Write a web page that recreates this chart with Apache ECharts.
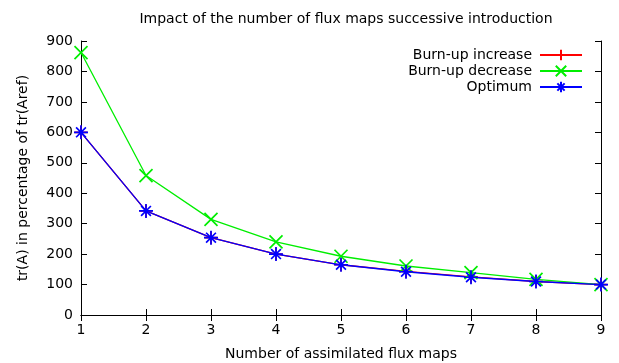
<!DOCTYPE html>
<html>
<head>
<meta charset="utf-8">
<script src="https://cdn.jsdelivr.net/npm/echarts@6/dist/echarts.min.js"></script>
<style>
  html, body { margin: 0; padding: 0; background: #fff; }
  #chart { width: 619px; height: 363px; }
</style>
</head>
<body>
<div id="chart"></div>
<script>
// values
const fluxMaps = [1, 2, 3, 4, 5, 6, 7, 8, 9]
const burnupIncrease = [600, 342, 254, 200, 165, 143, 125, 110, 100]
const burnupDecrease = [862, 458, 314, 240, 193, 161, 139, 117, 100]
const optimum = [600, 342, 254, 200, 165, 142, 124, 110, 100]

const font = 'DejaVu Sans'
const plusPath = 'path://M0,5L10,5M5,0L5,10'
const crossPath = 'path://M0,0L10,10M10,0L0,10'
const starPath = 'path://M0,5L10,5M5,0L5,10M1.5,1.5L8.5,8.5M8.5,1.5L1.5,8.5'

const pairs = (ys) => fluxMaps.map((x, i) => [x, ys[i]])

function makeSeries(name, color, path, ys, size) {
    return {
        name: name,
        type: 'line',
        data: pairs(ys),
        symbol: path,
        symbolSize: size,
        showAllSymbol: true,
        lineStyle: { color: color, width: 1.3 },
        itemStyle: { color: color, borderColor: color, borderWidth: 1.7 },
        emphasis: { disabled: true },
    }
}

function legendFor(name, top) {
    return {
        data: [name],
        orient: 'vertical',
        right: 36,
        top: top,
        align: 'right',
        itemWidth: 42,
        itemHeight: 13,
        padding: 0,
        selectedMode: false,
        textStyle: { fontFamily: font, fontSize: 14, color: '#000', padding: [0, 3, 0, 0] },
    }
}

const axisCommon = {
    axisLine: { show: true, lineStyle: { color: '#000', width: 1 } },
    axisTick: { show: true, inside: true, length: 6, lineStyle: { color: '#000' } },
    splitLine: { show: false },
}

const chart = echarts.init(document.getElementById('chart'), null, { renderer: 'canvas' })
chart.setOption({
    animation: false,
    backgroundColor: '#fff',
    title: {
        text: 'Impact of the number of flux maps successive introduction',
        left: 341,
        textAlign: 'center',
        top: 7,
        textStyle: { fontFamily: font, fontSize: 14, fontWeight: 'normal', color: '#000' },
    },
    legend: [
        legendFor('Burn-up increase', 48),
        legendFor('Burn-up decrease', 64),
        legendFor('Optimum', 80),
    ],
    grid: { left: 81, right: 18, top: 41, bottom: 48, outerBoundsMode: 'none' },
    xAxis: [
        {
            type: 'value',
            min: 1,
            max: 9,
            interval: 1,
            name: 'Number of assimilated flux maps',
            nameLocation: 'middle',
            nameGap: 32,
            nameTextStyle: { fontFamily: font, fontSize: 14, color: '#000' },
            axisLabel: { fontFamily: font, fontSize: 14, color: '#000', margin: 8 },
            ...axisCommon,
        },
        {
            type: 'value',
            position: 'top',
            min: 1,
            max: 9,
            interval: 1,
            axisLabel: { show: false },
            ...axisCommon,
        },
    ],
    yAxis: [
        {
            type: 'value',
            min: 0,
            max: 900,
            interval: 100,
            name: 'tr(A) in percentage of tr(Aref)',
            nameLocation: 'middle',
            nameGap: 51,
            nameTextStyle: { fontFamily: font, fontSize: 14, color: '#000' },
            axisLabel: { fontFamily: font, fontSize: 14, color: '#000', margin: 8 },
            ...axisCommon,
        },
        {
            type: 'value',
            position: 'right',
            min: 0,
            max: 900,
            interval: 100,
            axisLabel: { show: false },
            ...axisCommon,
        },
    ],
    series: [
        makeSeries('Burn-up increase', '#ff0000', plusPath, burnupIncrease, 13),
        makeSeries('Burn-up decrease', '#00ee00', crossPath, burnupDecrease, 13),
        makeSeries('Optimum', '#0000ff', starPath, optimum, 14),
    ],
})
</script>
</body>
</html>
